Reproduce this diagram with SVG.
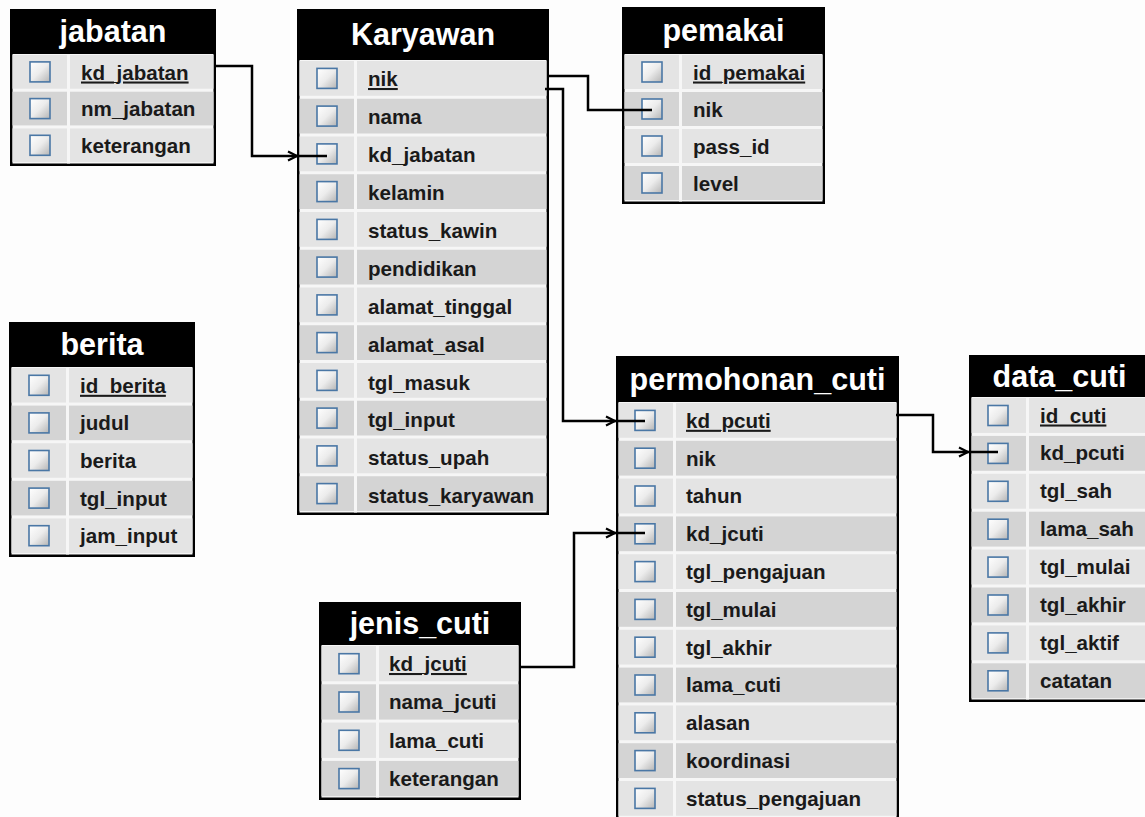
<svg xmlns="http://www.w3.org/2000/svg" xmlns:xlink="http://www.w3.org/1999/xlink" width="1145" height="817" viewBox="0 0 1145 817">
<defs>
<linearGradient id="g" x1="0" y1="0" x2="1" y2="1">
<stop offset="0" stop-color="#ffffff"/>
<stop offset="0.5" stop-color="#ececec"/>
<stop offset="1" stop-color="#b4b4b4"/>
</linearGradient>
<rect id="cb" width="20" height="20" fill="url(#g)" stroke="#4a77a5" stroke-width="1.6"/>
<path id="arr" d="M-9,-4.5 L0,0 L-9,4.5" fill="none" stroke="#000" stroke-width="2.2"/>
<style>
.hdr{fill:#000}
.body{fill:#f6f6f6}
.l{fill:#e4e4e4}
.d{fill:#d4d4d4}
.sep{fill:#f6f6f6}
.t{font-family:"Liberation Sans",Arial,sans-serif;font-weight:bold;font-size:20.6px;fill:#1a1a1a}
.pk{text-decoration:underline}
.ttl{font-family:"Liberation Sans",Arial,sans-serif;font-weight:bold;font-size:30.5px;fill:#fff;text-anchor:middle}
.conn{fill:none;stroke:#000;stroke-width:2.5}
</style>
</defs>
<rect width="1145" height="817" fill="#fdfdfd"/>

<g id="jabatan">
<rect x="10" y="9" width="206" height="157" class="hdr"/>
<rect x="12.5" y="54" width="201" height="109.5" class="body"/>
<rect x="12.5" y="55" width="201" height="33.7" class="l"/>
<rect x="12.5" y="91.7" width="201" height="33.7" class="d"/>
<rect x="12.5" y="128.4" width="201" height="33.7" class="l"/>
<rect x="67" y="54" width="3" height="109.5" class="sep"/>
<use xlink:href="#cb" x="30" y="61.9"/>
<use xlink:href="#cb" x="30" y="98.6"/>
<use xlink:href="#cb" x="30" y="135.3"/>
<text x="81" y="79.5" class="t pk">kd_jabatan</text>
<text x="81" y="116.2" class="t">nm_jabatan</text>
<text x="81" y="152.9" class="t">keterangan</text>
<text x="113" y="42" class="ttl">jabatan</text>
</g>

<g id="karyawan">
<rect x="297" y="9" width="252" height="506" class="hdr"/>
<rect x="299.5" y="60" width="247" height="452.5" class="body"/>
<rect x="299.5" y="61" width="247" height="34.75" class="l"/>
<rect x="299.5" y="98.75" width="247" height="34.75" class="d"/>
<rect x="299.5" y="136.5" width="247" height="34.75" class="l"/>
<rect x="299.5" y="174.25" width="247" height="34.75" class="d"/>
<rect x="299.5" y="212" width="247" height="34.75" class="l"/>
<rect x="299.5" y="249.75" width="247" height="34.75" class="d"/>
<rect x="299.5" y="287.5" width="247" height="34.75" class="l"/>
<rect x="299.5" y="325.25" width="247" height="34.75" class="d"/>
<rect x="299.5" y="363" width="247" height="34.75" class="l"/>
<rect x="299.5" y="400.75" width="247" height="34.75" class="d"/>
<rect x="299.5" y="438.5" width="247" height="34.75" class="l"/>
<rect x="299.5" y="476.25" width="247" height="34.75" class="d"/>
<rect x="354" y="60" width="3" height="452.5" class="sep"/>
<use xlink:href="#cb" x="317" y="68.4"/>
<use xlink:href="#cb" x="317" y="106.1"/>
<use xlink:href="#cb" x="317" y="143.9"/>
<use xlink:href="#cb" x="317" y="181.6"/>
<use xlink:href="#cb" x="317" y="219.4"/>
<use xlink:href="#cb" x="317" y="257.1"/>
<use xlink:href="#cb" x="317" y="294.9"/>
<use xlink:href="#cb" x="317" y="332.6"/>
<use xlink:href="#cb" x="317" y="370.4"/>
<use xlink:href="#cb" x="317" y="408.1"/>
<use xlink:href="#cb" x="317" y="445.9"/>
<use xlink:href="#cb" x="317" y="483.6"/>
<text x="368" y="86" class="t pk">nik</text>
<text x="368" y="124" class="t">nama</text>
<text x="368" y="162" class="t">kd_jabatan</text>
<text x="368" y="200" class="t">kelamin</text>
<text x="368" y="238" class="t">status_kawin</text>
<text x="368" y="276" class="t">pendidikan</text>
<text x="368" y="313.5" class="t">alamat_tinggal</text>
<text x="368" y="351.5" class="t">alamat_asal</text>
<text x="368" y="389.5" class="t">tgl_masuk</text>
<text x="368" y="427" class="t">tgl_input</text>
<text x="368" y="465" class="t">status_upah</text>
<text x="368" y="502.5" class="t">status_karyawan</text>
<text x="423" y="45" class="ttl">Karyawan</text>
</g>

<g id="pemakai">
<rect x="622" y="7" width="203" height="197" class="hdr"/>
<rect x="624.5" y="54" width="198" height="147.5" class="body"/>
<rect x="624.5" y="55" width="198" height="34" class="l"/>
<rect x="624.5" y="92" width="198" height="34" class="d"/>
<rect x="624.5" y="129" width="198" height="34" class="l"/>
<rect x="624.5" y="166" width="198" height="34" class="d"/>
<rect x="679" y="54" width="3" height="147.5" class="sep"/>
<use xlink:href="#cb" x="642" y="62"/>
<use xlink:href="#cb" x="642" y="99"/>
<use xlink:href="#cb" x="642" y="136"/>
<use xlink:href="#cb" x="642" y="173"/>
<text x="693" y="79.5" class="t pk">id_pemakai</text>
<text x="693" y="116.5" class="t">nik</text>
<text x="693" y="153.5" class="t">pass_id</text>
<text x="693" y="190.5" class="t">level</text>
<text x="723.5" y="41" class="ttl">pemakai</text>
</g>

<g id="berita">
<rect x="9" y="322" width="186" height="235" class="hdr"/>
<rect x="11.5" y="367" width="181" height="187.5" class="body"/>
<rect x="11.5" y="368" width="181" height="34.6" class="l"/>
<rect x="11.5" y="405.6" width="181" height="34.6" class="d"/>
<rect x="11.5" y="443.2" width="181" height="34.6" class="l"/>
<rect x="11.5" y="480.8" width="181" height="34.6" class="d"/>
<rect x="11.5" y="518.4" width="181" height="34.6" class="l"/>
<rect x="66" y="367" width="3" height="187.5" class="sep"/>
<use xlink:href="#cb" x="29" y="375.3"/>
<use xlink:href="#cb" x="29" y="412.9"/>
<use xlink:href="#cb" x="29" y="450.5"/>
<use xlink:href="#cb" x="29" y="488.1"/>
<use xlink:href="#cb" x="29" y="525.7"/>
<text x="80" y="392.8" class="t pk">id_berita</text>
<text x="80" y="430.4" class="t">judul</text>
<text x="80" y="468" class="t">berita</text>
<text x="80" y="505.6" class="t">tgl_input</text>
<text x="80" y="543.2" class="t">jam_input</text>
<text x="102" y="355" class="ttl">berita</text>
</g>

<g id="permohonan_cuti">
<rect x="616" y="356" width="283" height="480" class="hdr"/>
<rect x="618.5" y="402" width="278" height="430" class="body"/>
<rect x="618.5" y="403" width="278" height="34.8" class="l"/>
<rect x="618.5" y="440.8" width="278" height="34.8" class="d"/>
<rect x="618.5" y="478.6" width="278" height="34.8" class="l"/>
<rect x="618.5" y="516.4" width="278" height="34.8" class="d"/>
<rect x="618.5" y="554.2" width="278" height="34.8" class="l"/>
<rect x="618.5" y="592" width="278" height="34.8" class="d"/>
<rect x="618.5" y="629.8" width="278" height="34.8" class="l"/>
<rect x="618.5" y="667.6" width="278" height="34.8" class="d"/>
<rect x="618.5" y="705.4" width="278" height="34.8" class="l"/>
<rect x="618.5" y="743.2" width="278" height="34.8" class="d"/>
<rect x="618.5" y="781" width="278" height="34.8" class="l"/>
<rect x="673" y="402" width="3" height="430" class="sep"/>
<use xlink:href="#cb" x="635" y="410.4"/>
<use xlink:href="#cb" x="635" y="448.2"/>
<use xlink:href="#cb" x="635" y="486"/>
<use xlink:href="#cb" x="635" y="523.8"/>
<use xlink:href="#cb" x="635" y="561.6"/>
<use xlink:href="#cb" x="635" y="599.4"/>
<use xlink:href="#cb" x="635" y="637.2"/>
<use xlink:href="#cb" x="635" y="675"/>
<use xlink:href="#cb" x="635" y="712.8"/>
<use xlink:href="#cb" x="635" y="750.6"/>
<use xlink:href="#cb" x="635" y="788.4"/>
<text x="686" y="427.8" class="t pk">kd_pcuti</text>
<text x="686" y="465.6" class="t">nik</text>
<text x="686" y="503.4" class="t">tahun</text>
<text x="686" y="541.2" class="t">kd_jcuti</text>
<text x="686" y="579" class="t">tgl_pengajuan</text>
<text x="686" y="616.8" class="t">tgl_mulai</text>
<text x="686" y="654.6" class="t">tgl_akhir</text>
<text x="686" y="692.4" class="t">lama_cuti</text>
<text x="686" y="730.2" class="t">alasan</text>
<text x="686" y="768" class="t">koordinasi</text>
<text x="686" y="805.6" class="t">status_pengajuan</text>
<text x="757.5" y="389.5" class="ttl">permohonan_cuti</text>
</g>

<g id="data_cuti">
<rect x="969" y="355" width="181" height="347" class="hdr"/>
<rect x="971.5" y="397" width="176" height="302.5" class="body"/>
<rect x="971.5" y="398" width="176" height="34.9" class="l"/>
<rect x="971.5" y="435.9" width="176" height="34.9" class="d"/>
<rect x="971.5" y="473.8" width="176" height="34.9" class="l"/>
<rect x="971.5" y="511.7" width="176" height="34.9" class="d"/>
<rect x="971.5" y="549.6" width="176" height="34.9" class="l"/>
<rect x="971.5" y="587.5" width="176" height="34.9" class="d"/>
<rect x="971.5" y="625.4" width="176" height="34.9" class="l"/>
<rect x="971.5" y="663.3" width="176" height="34.9" class="d"/>
<rect x="1026" y="397" width="3" height="302.5" class="sep"/>
<use xlink:href="#cb" x="988" y="405.5"/>
<use xlink:href="#cb" x="988" y="443.4"/>
<use xlink:href="#cb" x="988" y="481.3"/>
<use xlink:href="#cb" x="988" y="519.2"/>
<use xlink:href="#cb" x="988" y="557.1"/>
<use xlink:href="#cb" x="988" y="595"/>
<use xlink:href="#cb" x="988" y="632.9"/>
<use xlink:href="#cb" x="988" y="670.8"/>
<text x="1040" y="422.5" class="t pk">id_cuti</text>
<text x="1040" y="460.4" class="t">kd_pcuti</text>
<text x="1040" y="498.3" class="t">tgl_sah</text>
<text x="1040" y="536.2" class="t">lama_sah</text>
<text x="1040" y="574.1" class="t">tgl_mulai</text>
<text x="1040" y="612" class="t">tgl_akhir</text>
<text x="1040" y="649.9" class="t">tgl_aktif</text>
<text x="1040" y="687.8" class="t">catatan</text>
<text x="1059.5" y="386.5" class="ttl">data_cuti</text>
</g>

<g id="jenis_cuti">
<rect x="319" y="602" width="202" height="198" class="hdr"/>
<rect x="321.5" y="645" width="197" height="152.5" class="body"/>
<rect x="321.5" y="646" width="197" height="35.3" class="l"/>
<rect x="321.5" y="684.3" width="197" height="35.3" class="d"/>
<rect x="321.5" y="722.6" width="197" height="35.3" class="l"/>
<rect x="321.5" y="760.9" width="197" height="35.3" class="d"/>
<rect x="376" y="645" width="3" height="152.5" class="sep"/>
<use xlink:href="#cb" x="339" y="653.7"/>
<use xlink:href="#cb" x="339" y="692"/>
<use xlink:href="#cb" x="339" y="730.3"/>
<use xlink:href="#cb" x="339" y="768.6"/>
<text x="389" y="671" class="t pk">kd_jcuti</text>
<text x="389" y="709.3" class="t">nama_jcuti</text>
<text x="389" y="747.6" class="t">lama_cuti</text>
<text x="389" y="785.9" class="t">keterangan</text>
<text x="420" y="634" class="ttl">jenis_cuti</text>
</g>

<g id="connectors">
<path class="conn" d="M216,66 H252 V156 H327"/>
<use xlink:href="#arr" x="297" y="156"/>
<path class="conn" d="M549,76 H588 V110 H652"/>
<path class="conn" d="M545,89 H563 V421 H645"/>
<use xlink:href="#arr" x="615" y="421"/>
<path class="conn" d="M896,415 H933 V452 H998"/>
<use xlink:href="#arr" x="968" y="452"/>
<path class="conn" d="M521,667 H574 V533 H645"/>
<use xlink:href="#arr" x="615" y="533"/>
</g>
</svg>
